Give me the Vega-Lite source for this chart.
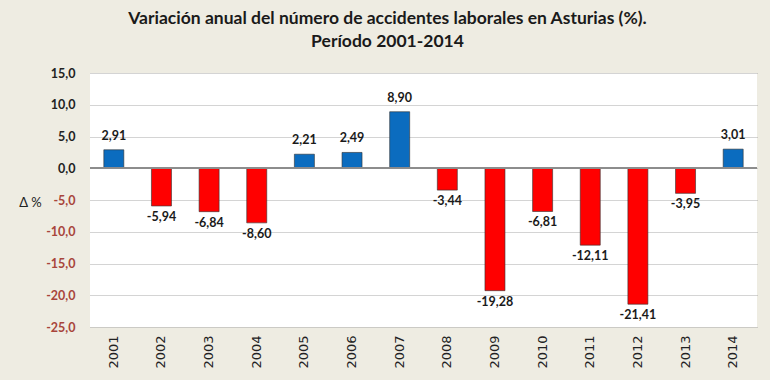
{
  "$schema": "https://vega.github.io/schema/vega-lite/v6.json",
  "autosize": {"type": "none"},
  "width": 667,
  "height": 254,
  "padding": {"left": 90, "top": 73, "right": 13, "bottom": 53},
  "background": "#eeece2",
  "view": {"fill": "#ffffff", "stroke": null},
  "title": {
    "text": ["Variación anual del número de accidentes laborales en Asturias (%).", "Período 2001-2014"],
    "font": "Lato",
    "fontSize": 17.5,
    "fontWeight": "bold",
    "color": "#1a1a1a",
    "anchor": "middle",
    "dx": -36,
    "offset": 17,
    "lineHeight": 23
  },
  "data": {
    "values": [
      {"year": "2001", "v": 2.91},
      {"year": "2002", "v": -5.94},
      {"year": "2003", "v": -6.84},
      {"year": "2004", "v": -8.60},
      {"year": "2005", "v": 2.21},
      {"year": "2006", "v": 2.49},
      {"year": "2007", "v": 8.90},
      {"year": "2008", "v": -3.44},
      {"year": "2009", "v": -19.28},
      {"year": "2010", "v": -6.81},
      {"year": "2011", "v": -12.11},
      {"year": "2012", "v": -21.41},
      {"year": "2013", "v": -3.95},
      {"year": "2014", "v": 3.01}
    ]
  },
  "encoding": {
    "x": {
      "field": "year",
      "type": "nominal",
      "sort": null,
      "scale": {"paddingInner": 0.58, "paddingOuter": 0.29},
      "axis": {
        "title": null,
        "labelAngle": -90,
        "labelAlign": "right",
        "labelBaseline": "middle",
        "labelFont": "DejaVu Sans",
        "labelFontSize": 13,
        "labelColor": "#222222",
        "labelPadding": 8,
        "ticks": false,
        "domain": false,
        "grid": false
      }
    },
    "y": {
      "field": "v",
      "type": "quantitative",
      "scale": {"domain": [-25, 15], "nice": false},
      "axis": {
        "values": [-25, -20, -15, -10, -5, 0, 5, 10, 15],
        "labelExpr": "replace(replace(format(datum.value, '.1f'), '.', ','), '\u2212', '-')",
        "labelFont": "Lato",
        "labelFontSize": 12.5,
        "labelFontWeight": "bold",
        "labelColor": {"condition": {"test": "datum.value < 0", "value": "#a8453c"}, "value": "#222222"},
        "labelPadding": 15,
        "ticks": false,
        "domain": false,
        "grid": true,
        "gridColor": "#a8a8a8",
        "gridDash": [1, 1],
        "gridWidth": 1,
        "title": "Δ %",
        "titleAngle": 0,
        "titleFont": "Lato",
        "titleFontSize": 13,
        "titleFontWeight": "normal",
        "titleColor": "#222222",
        "titleAlign": "center",
        "titleBaseline": "middle",
        "titleX": -60,
        "titleY": 129
      }
    }
  },
  "layer": [
    {
      "mark": {"type": "bar", "stroke": "#303030", "strokeWidth": 0.6},
      "encoding": {
        "color": {
          "condition": {"test": "datum.v < 0", "value": "#ff0000"},
          "value": "#0b6cbf"
        }
      }
    },
    {
      "mark": {"type": "rule", "color": "#8c8c8c", "strokeWidth": 1.2},
      "encoding": {"y": {"datum": 0}, "x": null}
    },
    {
      "transform": [{"filter": "datum.v >= 0"}],
      "mark": {"type": "text", "baseline": "bottom", "dy": -7, "font": "Lato", "fontSize": 12.5, "fontWeight": "bold", "color": "#1a1a1a", "text": {"expr": "replace(format(datum.v, '.2f'), '.', ',')"}},
      "encoding": {}
    },
    {
      "transform": [{"filter": "datum.v < 0"}],
      "mark": {"type": "text", "baseline": "top", "dy": 5, "font": "Lato", "fontSize": 12.5, "fontWeight": "bold", "color": "#1a1a1a", "text": {"expr": "replace(replace(format(datum.v, '.2f'), '.', ','), '\u2212', '-')"}},
      "encoding": {}
    }
  ]
}
